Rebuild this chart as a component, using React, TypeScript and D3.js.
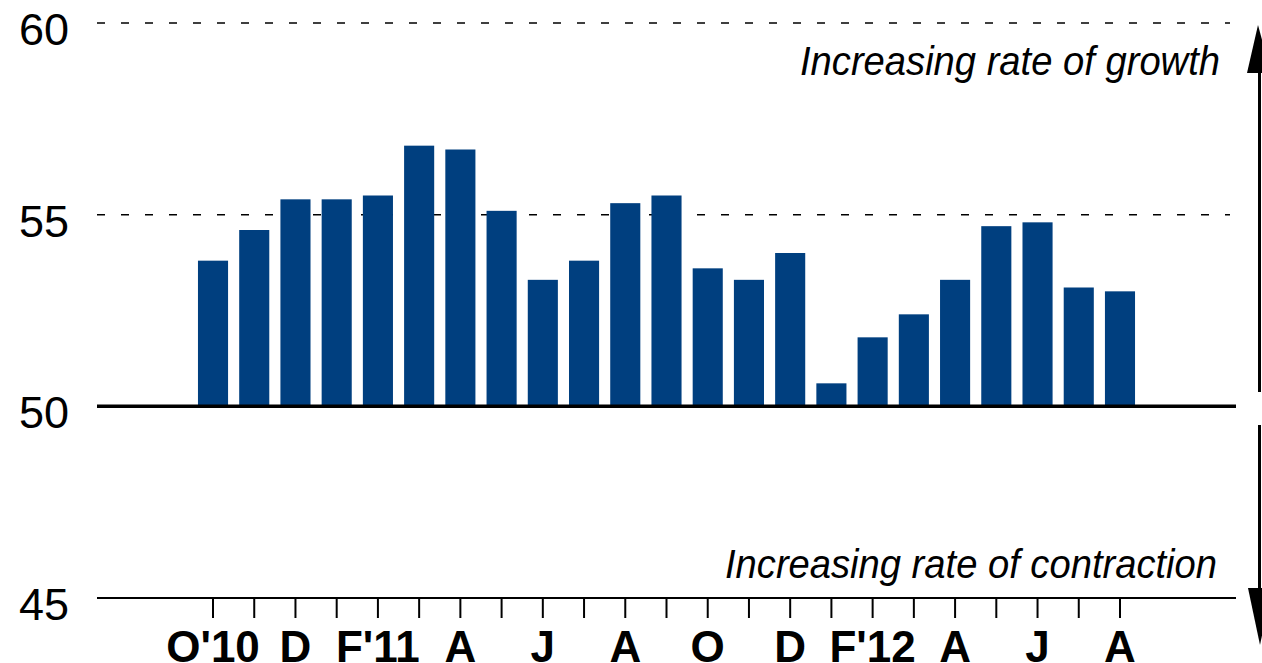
import React from "react";
import * as d3 from "d3";

const months = ["O'10","N","D","J","F'11","M","A","M","J","J","A","S","O","N","D","J","F'12","M","A","M","J","J","A"];
const values = [53.8,54.6,55.4,55.4,55.5,56.8,56.7,55.1,53.3,53.8,55.3,55.5,53.6,53.3,54.0,50.6,51.8,52.4,53.3,54.7,54.8,53.1,53.0];
const tickLabels = ["O'10","D","F'11","A","J","A","O","D","F'12","A","J","A"];
const yTicks = [45, 50, 55, 60];

export default function App() {
  const W = 1262, H = 663;
  const ids = months.map((_, i) => String(i));
  const x = d3.scaleBand<string>().domain(ids).range([192.4, 1140.6]).paddingInner(0.27).paddingOuter(0.135);
  const y = d3.scaleLinear().domain([45, 60]).range([598, 23]);
  const bw = x.bandwidth();
  const font = "'Liberation Sans', Arial, sans-serif";
  const lx0 = 97, lx1 = 1236;
  return (
    <svg width={W} height={H} style={{ position: "absolute", left: 0, top: 0, background: "#fff" }}>
      {yTicks.map(t => (
        <g key={t}>
          <text x={69} y={y(t) + 22} fontSize={45} fontFamily={font} textAnchor="end" fill="#000">{t}</text>
          {t === 55 || t === 60 ? (
            <line x1={lx0} x2={1230} y1={y(t)} y2={y(t)} stroke="#000" strokeWidth={1.5} strokeDasharray="8 16" />
          ) : null}
        </g>
      ))}
      {values.map((v, i) => (
        <rect key={i} x={x(String(i))} y={y(v)} width={bw} height={y(50) - y(v)} fill="#003f7f" />
      ))}
      <line x1={lx0} x2={lx1} y1={y(50)} y2={y(50)} stroke="#000" strokeWidth={3.5} />
      <line x1={lx0} x2={lx1} y1={y(45)} y2={y(45)} stroke="#000" strokeWidth={2} />
      {months.map((_, i) => {
        const cx = (x(String(i)) as number) + bw / 2;
        return <line key={i} x1={cx} x2={cx} y1={y(45)} y2={y(45) + 20} stroke="#000" strokeWidth={2} />;
      })}
      {tickLabels.map((l, k) => {
        const i = k * 2;
        const cx = (x(String(i)) as number) + bw / 2;
        return <text key={k} x={cx} y={662} fontSize={44} fontWeight="bold" fontFamily={font} textAnchor="middle" fill="#000">{l}</text>;
      })}
      <text x={1220} y={75} fontSize={41} fontStyle="italic" fontFamily={font} textAnchor="end" textLength={420} lengthAdjust="spacingAndGlyphs" fill="#000">Increasing rate of growth</text>
      <text x={1217} y={578} fontSize={41} fontStyle="italic" fontFamily={font} textAnchor="end" textLength={492} lengthAdjust="spacingAndGlyphs" fill="#000">Increasing rate of contraction</text>
      <line x1={1259.5} x2={1259.5} y1={392} y2={70} stroke="#000" strokeWidth={3} />
      <path d="M1258,25 L1247,73 L1271,73 Z" fill="#000" />
      <line x1={1259.5} x2={1259.5} y1={425} y2={592} stroke="#000" strokeWidth={3} />
      <path d="M1248,588 L1260,645 L1272,588 Z" fill="#000" />
    </svg>
  );
}
